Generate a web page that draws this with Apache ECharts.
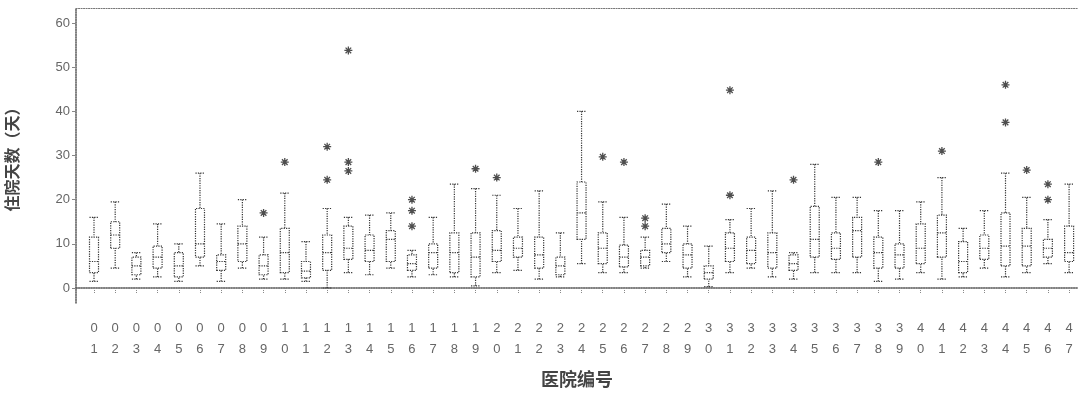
<!DOCTYPE html>
<html>
<head>
<meta charset="utf-8">
<script src="https://cdn.jsdelivr.net/npm/echarts@6/dist/echarts.min.js"></script>
<style>
  html, body { margin: 0; padding: 0; background: #fff; }
  #chart { width: 1078px; height: 397px; }
</style>
</head>
<body>
<div id="chart"></div>
<script>
// Group codes along the x axis
const categories = ['01','02','03','04','05','06','07','08','09','10',
  '11','12','13','14','15','16','17','18','19','20',
  '21','22','23','24','25','26','27','28','29','30',
  '31','32','33','34','35','36','37','38','39','40',
  '41','42','43','44','45','46','47'];

// Five-number summary of each group
const lowWhisker  = [1.5, 4.5, 2, 2.5, 1.5, 5, 1.5, 4.5, 2, 2,
  1.5, 0, 3.5, 3, 4.5, 2.5, 3, 2.5, 0.5, 3.5,
  4, 2, 2.5, 5.5, 3.5, 3.5, 4.5, 6, 2.5, 0.3,
  3.5, 4.5, 2.5, 2, 3.5, 3.5, 3.5, 1.5, 2, 3.5,
  2, 2.5, 4.5, 2.5, 3.5, 5.5, 3.5];
const q1          = [3.5, 9, 3, 4.5, 2.5, 7, 4, 6, 3, 3.5,
  2.3, 4, 6.5, 6, 6, 4, 4.5, 3.5, 2.5, 6,
  7, 4.5, 3, 11, 5.5, 4.8, 5, 8, 4.5, 2,
  6, 5.5, 4.5, 4, 7, 6.5, 7, 4.5, 4.5, 5.5,
  7, 3.5, 6.5, 5, 5, 7, 6];
const median      = [6, 12, 5, 7, 5, 10, 6, 10, 5, 8,
  3.8, 8, 9, 8.5, 11, 5.5, 8, 8, 7, 8.5,
  9, 7.5, 5, 17, 9, 7, 7, 10, 7.5, 3.5,
  9, 8.5, 8, 5.5, 11, 9, 13, 8, 7.5, 9,
  12.5, 6, 9, 9.5, 9.5, 9, 8];
const q3          = [11.5, 15, 7, 9.5, 8, 18, 7.5, 14, 7.5, 13.5,
  6, 12, 14, 12, 13, 7.5, 10, 12.5, 12.5, 13,
  11.5, 11.5, 7, 24, 12.5, 9.7, 8.5, 13.5, 10, 5,
  12.5, 11.5, 12.5, 7.5, 18.5, 12.5, 16, 11.5, 10, 14.5,
  16.5, 10.5, 12, 17, 13.5, 11, 14];
const highWhisker = [16, 19.5, 8, 14.5, 10, 26, 14.5, 20, 11.5, 21.5,
  10.5, 18, 16, 16.5, 17, 8.5, 16, 23.5, 22.5, 21,
  18, 22, 12.5, 40, 19.5, 16, 11.5, 19, 14, 9.5,
  15.5, 18, 22, 8, 28, 20.5, 20.5, 17.5, 17.5, 19.5,
  25, 13.5, 17.5, 26, 20.5, 15.5, 23.5];

// Outlying observations: group code and value
const outlierCat = ['09','10','12','12','13','13','13','16','16','16',
  '19','20','25','26','27','27','31','31','34','38',
  '41','44','44','45','46','46'];
const outlierVal = [17, 28.5, 24.5, 32, 26.5, 28.5, 53.8, 14, 17.5, 20,
  27, 25, 29.7, 28.5, 14, 15.8, 21, 44.8, 24.5, 28.5,
  31, 37.5, 46, 26.7, 20, 23.5];

// Y axis tick values
const yTicks = [0, 10, 20, 30, 40, 50, 60];

const pos = c => categories.indexOf(c) + 1;
const xTicks = categories.map(pos);

const boxData = categories.map((c, i) =>
  [pos(c), lowWhisker[i], q1[i], median[i], q3[i], highWhisker[i]]);
const outlierData = outlierCat.map((c, i) => [pos(c), outlierVal[i]]);

const ink = '#333';
const frame = '#555';
const textInk = '#666';
const dots = [1.2, 1.3];
const font = 'Liberation Sans, DejaVu Sans, sans-serif';
const cjk = 'Noto Sans CJK SC, sans-serif';

const chart = echarts.init(document.getElementById('chart'), null, { renderer: 'canvas' });
chart.setOption({
  animation: false,
  backgroundColor: '#fff',
  grid: { left: 76, top: 8, right: 0, bottom: 94, outerBoundsMode: 'none' },
  xAxis: [{
    type: 'value',
    min: 0.151,
    max: 47.42,
    name: '医院编号',
    nameLocation: 'middle',
    nameGap: 67,
    nameTextStyle: { fontFamily: cjk, fontSize: 18, fontWeight: 'bold', color: '#444' },
    axisLine: { show: true, lineStyle: { color: frame, width: 1.5, type: dots } },
    axisTick: { show: true, customValues: xTicks, length: 5, lineStyle: { color: '#888', type: 'dotted' } },
    axisLabel: {
      customValues: xTicks,
      margin: 15,
      fontFamily: font,
      fontSize: 13,
      lineHeight: 21,
      color: textInk,
      formatter: v => categories[Math.round(v) - 1].split('').join('\n')
    },
    splitLine: { show: false }
  }, {
    type: 'value',
    position: 'top',
    min: 0.151,
    max: 47.42,
    axisLine: { show: true, lineStyle: { color: '#777', width: 1, type: dots } },
    axisTick: { show: false },
    axisLabel: { show: false },
    splitLine: { show: false }
  }],
  yAxis: {
    type: 'value',
    min: -3.4,
    max: 63.4,
    name: '住院天数（天）',
    nameLocation: 'middle',
    nameRotate: 90,
    nameGap: 56,
    nameTextStyle: { fontFamily: cjk, fontSize: 16, fontWeight: 'bold', color: '#444' },
    axisLine: { show: true, lineStyle: { color: frame, width: 1.5, type: dots } },
    axisTick: { show: true, customValues: yTicks, length: 4, lineStyle: { color: '#888' } },
    axisLabel: { customValues: yTicks, margin: 6, fontFamily: font, fontSize: 13, color: textInk },
    splitLine: { show: false }
  },
  series: [{
    type: 'boxplot',
    xAxisIndex: 0,
    data: boxData,
    boxWidth: [9, 9],
    itemStyle: { color: 'rgba(255,255,255,0)', borderColor: ink, borderWidth: 1.2, borderType: 'dotted' }
  }, {
    type: 'scatter',
    xAxisIndex: 0,
    data: outlierData,
    symbol: 'path://M5,0L5,10M0,5L10,5M1.5,1.5L8.5,8.5M8.5,1.5L1.5,8.5',
    symbolSize: 8,
    itemStyle: { color: '#222', borderColor: '#222', borderWidth: 1.3 }
  }]
});
</script>
</body>
</html>
